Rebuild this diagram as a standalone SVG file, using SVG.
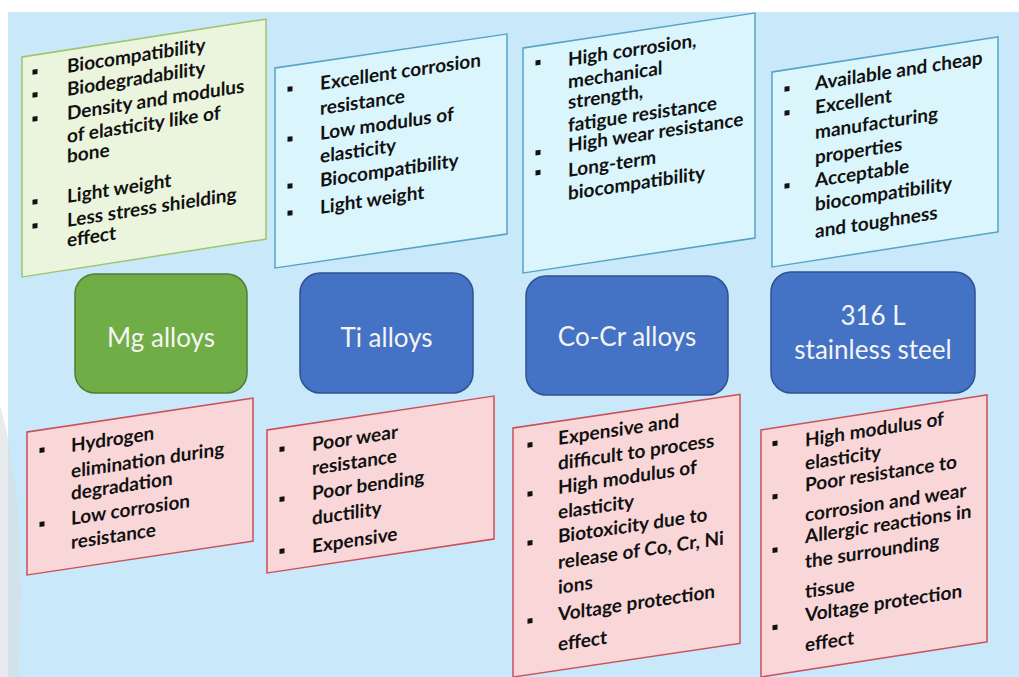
<svg xmlns="http://www.w3.org/2000/svg" width="1019" height="677" viewBox="0 0 1019 677">
<style>
.bg{fill:#C9E9FA}
.cg{fill:#EBF4DC;stroke:#9DC46E;stroke-width:1.5}
.cb{fill:#DAF5FC;stroke:#55A3C6;stroke-width:1.5}
.cr{fill:#F9D6D8;stroke:#C9505C;stroke-width:1.5}
.t{font-family:Lato,"Open Sans",sans-serif;font-weight:700;font-size:19px;fill:#111}
.b{fill:#111}
.ng{fill:#70AD47;stroke:#507E32;stroke-width:1.5}
.nb{fill:#4472C4;stroke:#2F528F;stroke-width:1.5}
.lbl{font-family:Lato,"Open Sans",sans-serif;font-size:26px;fill:#F4F4F4;text-anchor:middle}
</style>
<rect x="0" y="0" width="1019" height="677" fill="#FFFFFF"/>
<rect class="bg" x="8" y="12" width="1011" height="665"/>
<path d="M0,405 C18,470 26,560 18,677 L0,677 Z" fill="#D9DDE1" opacity="0.6"/>

<g id="mg-pros" transform="translate(22,57) skewY(-8.85)">
<rect class="cg" x="0" y="0" width="244" height="220"/>
<rect class="b" x="10.5" y="14.5" width="5" height="5"/>
<rect class="b" x="10.5" y="37.5" width="5" height="5"/>
<rect class="b" x="10.5" y="61.5" width="5" height="5"/>
<rect class="b" x="10.5" y="144.5" width="5" height="5"/>
<rect class="b" x="10.5" y="168.5" width="5" height="5"/>
<text class="t" x="45" y="23">Biocompatibility</text>
<text class="t" x="45" y="46">Biodegradability</text>
<text class="t" x="45" y="70">Density and modulus</text>
<text class="t" x="45" y="93">of elasticity like of</text>
<text class="t" x="45" y="113">bone</text>
<text class="t" x="45" y="153">Light weight</text>
<text class="t" x="45" y="177">Less stress shielding</text>
<text class="t" x="45" y="197">effect</text>
</g>

<g id="ti-pros" transform="translate(275,68) skewY(-8.34)">
<rect class="cb" x="0" y="0" width="232" height="200"/>
<rect class="b" x="12.5" y="20.7" width="5" height="5"/>
<rect class="b" x="12.5" y="70.7" width="5" height="5"/>
<rect class="b" x="12.5" y="117.7" width="5" height="5"/>
<rect class="b" x="12.5" y="144.7" width="5" height="5"/>
<text class="t" x="45" y="28.6">Excellent corrosion</text>
<text class="t" x="45" y="53.6">resistance</text>
<text class="t" x="45" y="78.6">Low modulus of</text>
<text class="t" x="45" y="101.6">elasticity</text>
<text class="t" x="45" y="125.6">Biocompatibility</text>
<text class="t" x="45" y="152.6">Light weight</text>
</g>

<g id="cocr-pros" transform="translate(523,48) skewY(-8.58)">
<rect class="cb" x="0" y="0" width="232" height="225"/>
<rect class="b" x="12.5" y="14.5" width="5" height="5"/>
<rect class="b" x="12.5" y="104.5" width="5" height="5"/>
<rect class="b" x="12.5" y="124.5" width="5" height="5"/>
<text class="t" x="45" y="24.8">High corrosion,</text>
<text class="t" x="45" y="47.3">mechanical</text>
<text class="t" x="45" y="67.8">strength,</text>
<text class="t" x="45" y="90.8">fatigue resistance</text>
<text class="t" x="45" y="110.8">High wear resistance</text>
<text class="t" x="45" y="135.8">Long-term</text>
<text class="t" x="45" y="158.8">biocompatibility</text>
</g>

<g id="ss-pros" transform="translate(772,72) skewY(-8.81)">
<rect class="cb" x="0" y="0" width="226" height="195"/>
<rect class="b" x="12.5" y="16.8" width="5" height="5"/>
<rect class="b" x="12.5" y="40.8" width="5" height="5"/>
<rect class="b" x="12.5" y="113.8" width="5" height="5"/>
<text class="t" x="43" y="24.7">Available and cheap</text>
<text class="t" x="43" y="48.7">Excellent</text>
<text class="t" x="43" y="73.7">manufacturing</text>
<text class="t" x="43" y="98.7">properties</text>
<text class="t" x="43" y="121.7">Acceptable</text>
<text class="t" x="43" y="145.7">biocompatibility</text>
<text class="t" x="43" y="172.7">and toughness</text>
</g>

<g id="mg-node">
<rect class="ng" x="75" y="274" width="172" height="119" rx="20"/>
<text class="lbl" x="161" y="347">Mg alloys</text>
</g>
<g id="ti-node">
<rect class="nb" x="300" y="273" width="173" height="120" rx="20"/>
<text class="lbl" x="386.5" y="347">Ti alloys</text>
</g>
<g id="cocr-node">
<rect class="nb" x="526" y="276" width="202" height="119" rx="20"/>
<text class="lbl" x="627" y="346">Co-Cr alloys</text>
</g>
<g id="ss-node">
<rect class="nb" x="771" y="272" width="204" height="121" rx="20"/>
<text class="lbl" x="873" y="325">316 L</text>
<text class="lbl" x="873" y="359">stainless steel</text>
</g>

<g id="mg-cons" transform="translate(27,432) skewY(-8.53)">
<rect class="cr" x="0" y="0" width="226" height="143"/>
<rect class="b" x="12.5" y="17.75" width="5" height="5"/>
<rect class="b" x="12.5" y="91.75" width="5" height="5"/>
<text class="t" x="44" y="26.6">Hydrogen</text>
<text class="t" x="44" y="52.6">elimination during</text>
<text class="t" x="44" y="74.6">degradation</text>
<text class="t" x="44" y="99.6">Low corrosion</text>
<text class="t" x="44" y="123.6">resistance</text>
</g>

<g id="ti-cons" transform="translate(267,430) skewY(-8.52)">
<rect class="cr" x="0" y="0" width="227" height="143"/>
<rect class="b" x="12.5" y="18.75" width="5" height="5"/>
<rect class="b" x="12.5" y="68.75" width="5" height="5"/>
<rect class="b" x="12.5" y="120.75" width="5" height="5"/>
<text class="t" x="45" y="27.75">Poor wear</text>
<text class="t" x="45" y="51.75">resistance</text>
<text class="t" x="45" y="76.75">Poor bending</text>
<text class="t" x="45" y="101.75">ductility</text>
<text class="t" x="45" y="129.75">Expensive</text>
</g>

<g id="cocr-cons" transform="translate(513,428) skewY(-8.42)">
<rect class="cr" x="0" y="0" width="227" height="249"/>
<rect class="b" x="14.5" y="17" width="5" height="5"/>
<rect class="b" x="14.5" y="66" width="5" height="5"/>
<rect class="b" x="14.5" y="115" width="5" height="5"/>
<rect class="b" x="14.5" y="193" width="5" height="5"/>
<text class="t" x="45" y="23.7">Expensive and</text>
<text class="t" x="45" y="48.7">difficult to process</text>
<text class="t" x="45" y="72.7">High modulus of</text>
<text class="t" x="45" y="97.7">elasticity</text>
<text class="t" x="45" y="121.7">Biotoxicity due to</text>
<text class="t" x="45" y="147.7">release of Co, Cr, Ni</text>
<text class="t" x="45" y="172.7">ions</text>
<text class="t" x="45" y="199.7">Voltage protection</text>
<text class="t" x="45" y="229.7">effect</text>
</g>

<g id="ss-cons" transform="translate(761,430) skewY(-8.81)">
<rect class="cr" x="0" y="0" width="226" height="247"/>
<rect class="b" x="11.5" y="13" width="5" height="5"/>
<rect class="b" x="11.5" y="66.4" width="5" height="5"/>
<rect class="b" x="11.5" y="119.7" width="5" height="5"/>
<rect class="b" x="11.5" y="197" width="5" height="5"/>
<text class="t" x="44" y="23.5">High modulus of</text>
<text class="t" x="44" y="46.8">elasticity</text>
<text class="t" x="44" y="68.5">Poor resistance to</text>
<text class="t" x="44" y="98.5">corrosion and wear</text>
<text class="t" x="44" y="120.1">Allergic reactions in</text>
<text class="t" x="44" y="145.1">the surrounding</text>
<text class="t" x="44" y="175.1">tissue</text>
<text class="t" x="44" y="198.5">Voltage protection</text>
<text class="t" x="44" y="228.5">effect</text>
</g>
</svg>
